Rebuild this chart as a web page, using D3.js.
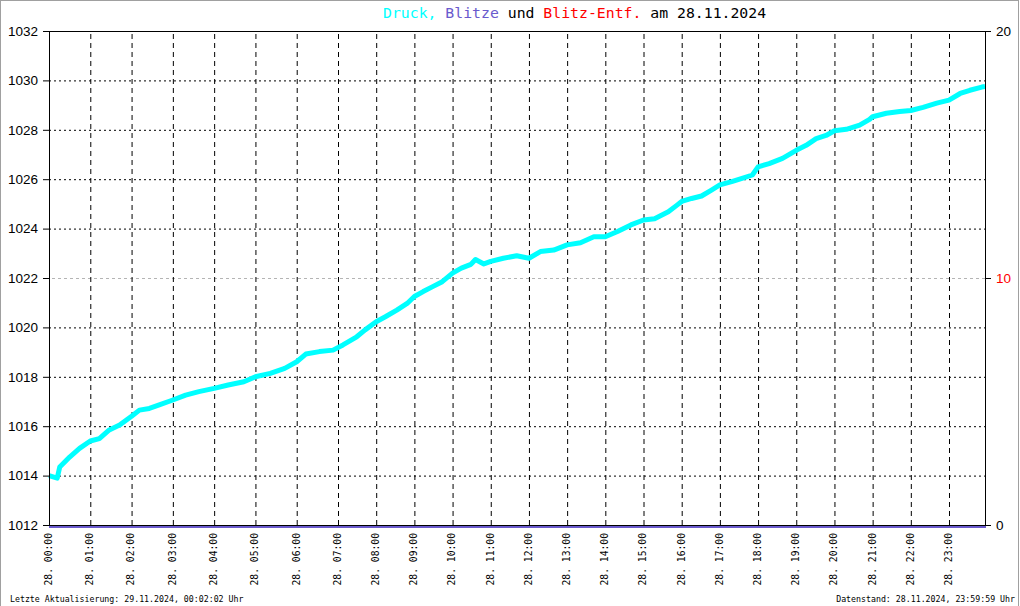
<!DOCTYPE html>
<html><head><meta charset="utf-8">
<script src="https://cdn.jsdelivr.net/npm/d3@7"></script>
<style>body{margin:0;background:#fff;} svg{display:block;}</style>
</head><body>
<script>
// ---- data ----
const hours = [0.00,0.20,0.26,0.50,0.74,1.00,1.22,1.46,1.71,2.00,2.19,2.43,2.67,3.00,3.31,3.63,4.00,4.34,4.72,5.00,5.36,5.71,6.00,6.22,6.55,6.88,7.13,7.49,7.71,8.00,8.24,8.54,8.81,9.00,9.23,9.48,9.73,10.00,10.23,10.48,10.60,10.82,11.00,11.33,11.68,12.00,12.30,12.65,13.00,13.35,13.70,14.00,14.32,14.67,15.00,15.29,15.65,15.87,16.00,16.26,16.52,16.78,17.00,17.31,17.58,17.85,18.00,18.29,18.64,19.00,19.26,19.52,19.78,20.00,20.31,20.66,20.92,21.00,21.36,21.71,22.00,22.32,22.68,23.00,23.31,23.58,23.91,24.00];
const pressure = [1014.00,1013.90,1014.35,1014.75,1015.10,1015.40,1015.50,1015.85,1016.05,1016.40,1016.65,1016.72,1016.86,1017.06,1017.26,1017.40,1017.53,1017.67,1017.80,1018.00,1018.14,1018.34,1018.61,1018.92,1019.02,1019.08,1019.29,1019.62,1019.90,1020.23,1020.43,1020.70,1020.97,1021.25,1021.45,1021.65,1021.85,1022.20,1022.40,1022.55,1022.75,1022.57,1022.67,1022.80,1022.90,1022.80,1023.07,1023.13,1023.34,1023.43,1023.67,1023.67,1023.88,1024.15,1024.35,1024.40,1024.68,1024.94,1025.10,1025.22,1025.32,1025.56,1025.77,1025.90,1026.03,1026.17,1026.50,1026.63,1026.84,1027.17,1027.37,1027.64,1027.77,1027.96,1028.02,1028.19,1028.42,1028.53,1028.67,1028.74,1028.78,1028.91,1029.08,1029.20,1029.47,1029.60,1029.73,1029.75];
const leftTicks = [1012,1014,1016,1018,1020,1022,1024,1026,1028,1030,1032];
const gridTicks = [1014,1016,1018,1020,1024,1026,1028,1030];
const rightTicks = [0,10,20];
const hourTicks = [0,1,2,3,4,5,6,7,8,9,10,11,12,13,14,15,16,17,18,19,20,21,22,23];
const hourLabels = ["28. 00:00","28. 01:00","28. 02:00","28. 03:00","28. 04:00","28. 05:00","28. 06:00","28. 07:00","28. 08:00","28. 09:00","28. 10:00","28. 11:00","28. 12:00","28. 13:00","28. 14:00","28. 15:00","28. 16:00","28. 17:00","28. 18:00","28. 19:00","28. 20:00","28. 21:00","28. 22:00","28. 23:00"];
const titleParts = [["Druck,","#00ffff"],[" Blitze","#6a5acd"],[" und","#000"],[" Blitz-Entf.","#ff0000"],[" am 28.11.2024","#000"]];
const footLeft = "Letzte Aktualisierung: 29.11.2024, 00:02:02 Uhr";
const footRight = "Datenstand: 28.11.2024, 23:59:59 Uhr";

// ---- layout ----
const W = 1020, H = 606;
const L = 49, R = 985, T = 31, B = 525;
const mono = "'DejaVu Sans Mono', monospace";
const sans = "'Liberation Sans', Arial, sans-serif";

const svg = d3.select("body").append("svg").attr("width", W).attr("height", H);
svg.append("rect").attr("x",0).attr("y",0).attr("width",W).attr("height",H).attr("fill","#fff");

const x = d3.scaleLinear().domain([0,7,23,24]).range([L,338,949,R]);
const y = d3.scaleLinear().domain([1012,1032]).range([B,T]);
const yR = d3.scaleLinear().domain([0,20]).range([B,T]);

// horizontal grid (left axis)
const gH = svg.append("g").attr("transform",`translate(${L},0)`)
  .call(d3.axisLeft(y).tickValues(gridTicks).tickSize(-(R-L)).tickFormat(""));
gH.select(".domain").remove();
gH.selectAll("line").attr("stroke","#000").attr("stroke-dasharray","2,3");

// right axis grid line at 10 (gray)
const gHR = svg.append("g").attr("transform",`translate(${R},0)`)
  .call(d3.axisRight(yR).tickValues([10]).tickSize(-(R-L)).tickFormat(""));
gHR.select(".domain").remove();
gHR.selectAll("line").attr("stroke","#b4b4b4").attr("stroke-dasharray","3,3");

// vertical grid
const gV = svg.append("g").attr("transform",`translate(0,${B})`)
  .call(d3.axisBottom(x).tickValues(hourTicks.filter(h=>h>0)).tickSize(-(B-T)).tickFormat(""));
gV.select(".domain").remove();
gV.selectAll("line").attr("stroke","#000").attr("stroke-dasharray","5,4");

// data line
const pts = hours.map((h,i)=>[h,pressure[i]]);
svg.append("path").datum(pts)
  .attr("fill","none").attr("stroke","#00ffff").attr("stroke-width",5)
  .attr("stroke-linejoin","round")
  .attr("d", d3.line().x(d=>x(d[0])).y(d=>y(d[1])));

// frame
svg.append("line").attr("x1",L).attr("x2",R).attr("y1",T+0.5).attr("y2",T+0.5).attr("stroke","#000");
svg.append("line").attr("x1",L).attr("x2",R+1).attr("y1",B+0.5).attr("y2",B+0.5).attr("stroke","#000");
svg.append("line").attr("x1",L).attr("x2",R+1).attr("y1",B+2).attr("y2",B+2).attr("stroke","#6a5acd").attr("stroke-width",2);

// left axis
const aL = svg.append("g").attr("transform",`translate(${L},0)`)
  .call(d3.axisLeft(y).tickValues(leftTicks).tickSizeInner(6).tickSizeOuter(0).tickPadding(5).tickFormat(d3.format("d")));
aL.select(".domain").attr("stroke","#000");
aL.selectAll("line").attr("stroke","#000");
aL.selectAll("text").attr("font-family",sans).attr("font-size","13.5px").attr("fill","#000");

// right axis
const aR = svg.append("g").attr("transform",`translate(${R},0)`)
  .call(d3.axisRight(yR).tickValues(rightTicks).tickSizeInner(6).tickSizeOuter(0).tickPadding(5).tickFormat(d3.format("d")));
aR.select(".domain").attr("stroke","#000");
aR.selectAll("line").attr("stroke","#000");
aR.selectAll("text").attr("font-family",sans).attr("font-size","13.5px")
  .attr("fill", d => d===10 ? "#ff0000" : "#000");

// bottom labels
const aB = svg.append("g").attr("transform",`translate(0,${B})`)
  .call(d3.axisBottom(x).tickValues(hourTicks).tickSize(0).tickFormat((d,i)=>hourLabels[i]));
aB.select(".domain").remove();
aB.selectAll("text")
  .attr("font-family",mono).attr("font-size","9.7px").attr("fill","#000")
  .attr("text-anchor","end").attr("y",0).attr("dy","0.35em")
  .attr("transform","translate(-1,8) rotate(-90)");

// title
const t = svg.append("text").attr("x",383).attr("y",18)
  .attr("font-family",mono).attr("font-size","14.8px").attr("xml:space","preserve")
  .style("white-space","pre");
titleParts.forEach(p=>t.append("tspan").attr("fill",p[1]).text(p[0]));

// footer
svg.append("text").attr("x",10).attr("y",602).attr("font-family",mono).attr("font-size","8.25px").attr("fill","#000").text(footLeft);
svg.append("text").attr("x",1015).attr("y",602).attr("text-anchor","end").attr("font-family",mono).attr("font-size","8.25px").attr("fill","#000").text(footRight);

// outer border
svg.append("rect").attr("x",0.5).attr("y",0.5).attr("width",1018).attr("height",H+5)
  .attr("fill","none").attr("stroke","#a0a0a0");
</script>
</body></html>
